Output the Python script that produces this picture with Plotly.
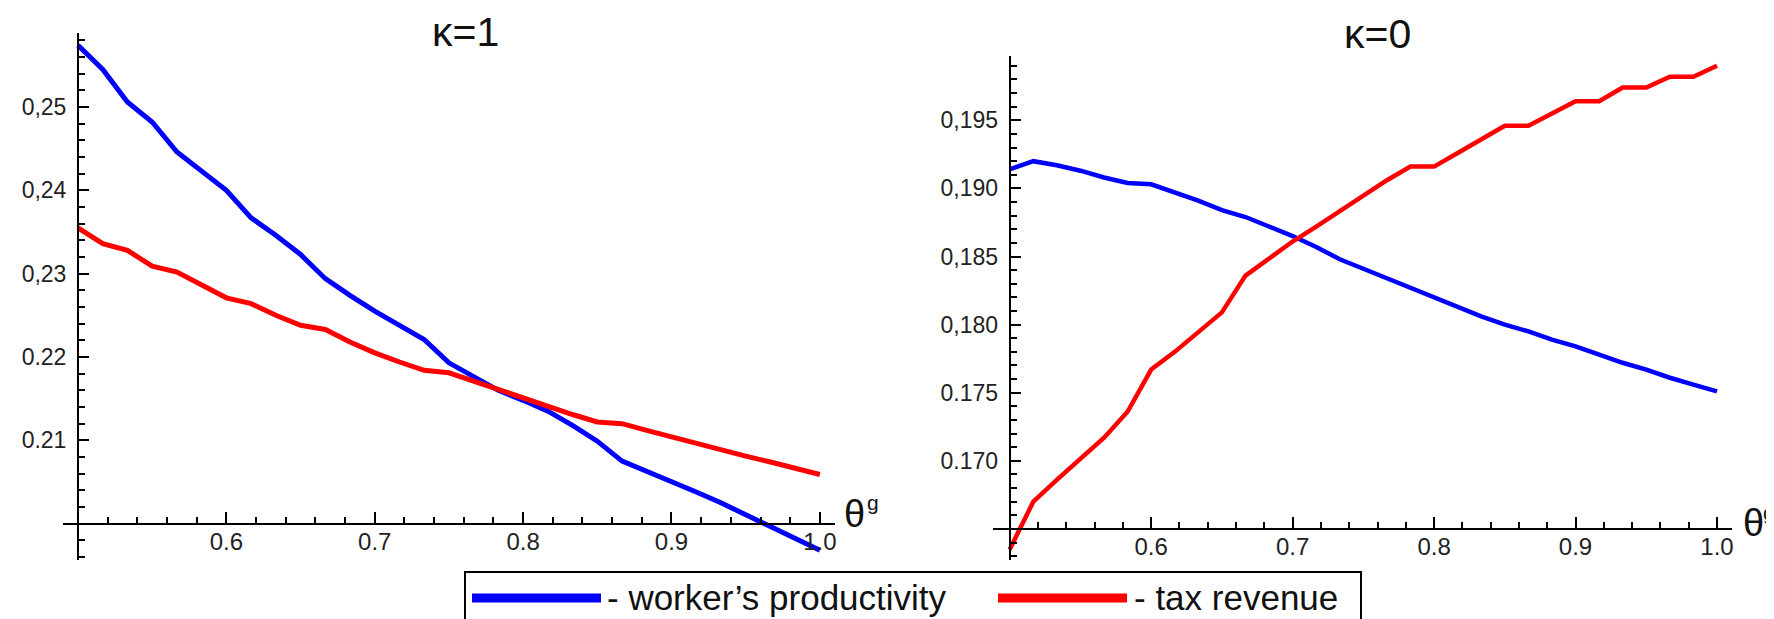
import plotly.graph_objects as go

# ---- data ----
theta = [0.5, 0.5167, 0.5333, 0.55, 0.5667, 0.5833, 0.6, 0.6167, 0.6333, 0.65,
         0.6667, 0.6833, 0.7, 0.7167, 0.7333, 0.75, 0.7667, 0.7833, 0.8, 0.8167,
         0.8333, 0.85, 0.8667, 0.8833, 0.9, 0.9167, 0.9333, 0.95, 0.9667, 0.9833, 1.0]

k1_productivity = [0.2574, 0.2545, 0.2506, 0.2482, 0.2446, 0.2423, 0.2400, 0.2367, 0.2346, 0.2323,
                   0.2294, 0.2274, 0.2255, 0.2238, 0.2221, 0.2193, 0.2176, 0.2160, 0.2148, 0.2135,
                   0.2118, 0.2099, 0.2075, 0.2063, 0.2050, 0.2038, 0.2025, 0.2011, 0.1997, 0.1983, 0.1968]
k1_tax = [0.2355, 0.2336, 0.2328, 0.2309, 0.2302, 0.2286, 0.2271, 0.2264, 0.2250, 0.2238,
          0.2233, 0.2218, 0.2205, 0.2194, 0.2184, 0.2181, 0.2171, 0.2161, 0.2150, 0.2140,
          0.2131, 0.2122, 0.2120, 0.2112, 0.2104, 0.2096, 0.2089, 0.2081, 0.2074, 0.2066, 0.2059]

k0_productivity = [0.1914, 0.1920, 0.1917, 0.1913, 0.1908, 0.1904, 0.1903, 0.1897, 0.1891, 0.1884,
                   0.1879, 0.1872, 0.1865, 0.1857, 0.1848, 0.1841, 0.1834, 0.1827, 0.1820, 0.1813,
                   0.1806, 0.1800, 0.1795, 0.1789, 0.1784, 0.1778, 0.1772, 0.1767, 0.1761, 0.1756, 0.1751]
k0_tax = [0.1635, 0.1670, 0.1686, 0.1701, 0.1717, 0.1736, 0.1767, 0.1780, 0.1795, 0.1809,
          0.1836, 0.1848, 0.1861, 0.1872, 0.1883, 0.1895, 0.1906, 0.1916, 0.1916, 0.1926,
          0.1936, 0.1946, 0.1946, 0.1955, 0.1964, 0.1964, 0.1974, 0.1974, 0.1982, 0.1982, 0.1990]

x_tickvals = [0.6, 0.7, 0.8, 0.9, 1.0]
x_ticktext = ["0.6", "0.7", "0.8", "0.9", "1.0"]
y1_tickvals = [0.21, 0.22, 0.23, 0.24, 0.25]
y1_ticktext = ["0.21", "0.22", "0,23", "0,24", "0,25"]
y2_tickvals = [0.170, 0.175, 0.180, 0.185, 0.190, 0.195]
y2_ticktext = ["0.170", "0.175", "0,180", "0,185", "0,190", "0,195"]

series_names = ["- worker\u2019s productivity", "- tax revenue"]
panel_titles = ["\u03ba=1", "\u03ba=0"]

BLUE = "#0000ff"
RED = "#ff0000"
FONT = "Liberation Sans, Arial, Helvetica, sans-serif"
W, H = 1774, 619

fig = go.Figure()
fig.add_trace(go.Scatter(x=theta, y=k1_productivity, mode="lines", name=series_names[0],
                         line=dict(color=BLUE, width=5), xaxis="x", yaxis="y"))
fig.add_trace(go.Scatter(x=theta, y=k1_tax, mode="lines", name=series_names[1],
                         line=dict(color=RED, width=5), xaxis="x", yaxis="y"))
fig.add_trace(go.Scatter(x=theta, y=k0_productivity, mode="lines", name=series_names[0],
                         line=dict(color=BLUE, width=4.5), xaxis="x2", yaxis="y2"))
fig.add_trace(go.Scatter(x=theta, y=k0_tax, mode="lines", name=series_names[1],
                         line=dict(color=RED, width=4.5), xaxis="x2", yaxis="y2"))

def xax(domain, rng, pos):
    return dict(domain=domain, range=rng, anchor="free", position=pos,
                showline=True, linecolor="black", linewidth=2, showgrid=False, zeroline=False,
                ticks="inside", ticklen=11, tickwidth=2, tickcolor="black",
                tickmode="array", tickvals=x_tickvals, ticktext=x_ticktext,
                ticklabelstandoff=-4,
                tickfont=dict(family=FONT, size=24, color="#222"),
                minor=dict(tickmode="linear", tick0=0.5, dtick=0.02, ticks="inside",
                           ticklen=6, tickwidth=1.5, tickcolor="black", showgrid=False))

def yax(domain, rng, pos, tv, tt, tick0, dtick):
    return dict(domain=domain, range=rng, anchor="free", position=pos,
                showline=True, linecolor="black", linewidth=2, showgrid=False, zeroline=False,
                ticks="inside", ticklen=10, tickwidth=2, tickcolor="black",
                tickmode="array", tickvals=tv, ticktext=tt,
                ticklabelstandoff=6,
                tickfont=dict(family=FONT, size=23, color="#222"),
                minor=dict(tickmode="linear", tick0=tick0, dtick=dtick, ticks="inside",
                           ticklen=6, tickwidth=1.5, tickcolor="black", showgrid=False))

fig.update_layout(
    width=W, height=H,
    margin=dict(l=0, r=0, t=0, b=0, autoexpand=False),
    paper_bgcolor="white", plot_bgcolor="white",
    font=dict(family=FONT, color="#111"),
    showlegend=False,
    xaxis=xax([55 / W, 827 / W], [0.4899, 1.0102], 1 - 515.7 / H),
    yaxis=yax([1 - 552 / H, 1 - 25 / H], [0.19564, 0.25888], 70 / W,
              y1_tickvals, y1_ticktext, 0.2, 0.002),
    xaxis2=xax([985 / W, 1724 / W], [0.4882, 1.0106], 1 - 521 / H),
    yaxis2=yax([1 - 552 / H, 1 - 48 / H], [0.16272, 0.19972], 1001.7 / W,
               y2_tickvals, y2_ticktext, 0.165, 0.001),
)

# legend box (frame, samples and labels), placed in paper coordinates
fig.add_shape(type="rect", xref="paper", yref="paper", x0=457 / W, x1=1353 / W,
              y0=1 - 564 / H, y1=-0.2, line=dict(color="black", width=2), fillcolor="white",
              layer="above")
fig.add_shape(type="line", xref="paper", yref="paper", x0=464 / W, x1=593 / W,
              y0=1 - 590 / H, y1=1 - 590 / H, line=dict(color=BLUE, width=9), layer="above")
fig.add_shape(type="line", xref="paper", yref="paper", x0=990 / W, x1=1119 / W,
              y0=1 - 590 / H, y1=1 - 590 / H, line=dict(color=RED, width=9), layer="above")
fig.add_annotation(text=series_names[0], xref="paper", yref="paper", x=597 / W, y=1 - 589 / H,
                   xanchor="left", yanchor="middle", showarrow=False,
                   font=dict(family=FONT, size=35, color="#111"))
fig.add_annotation(text=series_names[1], xref="paper", yref="paper", x=1124 / W, y=1 - 589 / H,
                   xanchor="left", yanchor="middle", showarrow=False,
                   font=dict(family=FONT, size=35, color="#111"))

# panel titles
fig.add_annotation(text=panel_titles[0], xref="paper", yref="paper", x=457 / W, y=1 - 24 / H,
                   xanchor="center", yanchor="middle", showarrow=False,
                   font=dict(family=FONT, size=41, color="#111"))
fig.add_annotation(text=panel_titles[1], xref="paper", yref="paper", x=1369 / W, y=1 - 26 / H,
                   xanchor="center", yanchor="middle", showarrow=False,
                   font=dict(family=FONT, size=41, color="#111"))

# axis labels: theta with a small raised g
for tx, ty, gx, gy in [(846, 506, 865, 494), (1745, 515, 1761, 504)]:
    fig.add_annotation(text="\u03b8", xref="paper", yref="paper", x=tx / W, y=1 - ty / H,
                       xanchor="center", yanchor="middle", showarrow=False,
                       font=dict(family=FONT, size=38, color="#111"))
    fig.add_annotation(text="g", xref="paper", yref="paper", x=gx / W, y=1 - gy / H,
                       xanchor="center", yanchor="middle", showarrow=False,
                       font=dict(family=FONT, size=21, color="#111"))

fig.write_html("out.html")
